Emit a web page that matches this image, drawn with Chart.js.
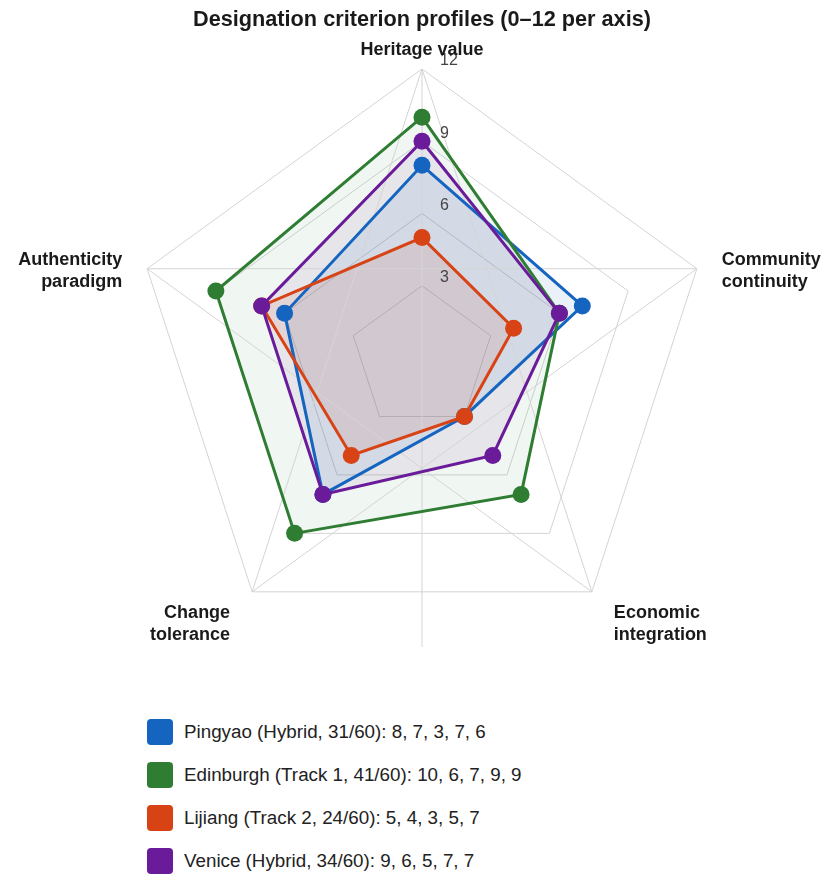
<!DOCTYPE html>
<html>
<head>
<meta charset="utf-8">
<script src="https://cdn.jsdelivr.net/npm/chart.js@4.4.1/dist/chart.umd.min.js"></script>
<style>
  html, body { margin: 0; padding: 0; background: #ffffff; }
  #wrap { position: relative; width: 836px; height: 886px; font-family: "Liberation Sans", Arial, sans-serif; }
  #cvwrap { position: absolute; left: 0; top: 0; width: 836px; height: 690px; }
  #legend { position: absolute; left: 147px; top: 719px; }
  .item { display: flex; align-items: center; height: 26px; margin-bottom: 17px; }
  .box { width: 26px; height: 26px; border-radius: 4px; margin-right: 11px; flex: none; }
  .txt { font-size: 18.8px; color: #222222; white-space: nowrap; }
</style>
</head>
<body>
<div id="wrap">
  <div id="cvwrap"><canvas id="cv"></canvas></div>
  <div id="legend"></div>
</div>
<script>
// ---- data ----
const categories = ["Heritage value", "Community continuity", "Economic integration", "Change tolerance", "Authenticity paradigm"];
const categoryLines = [["Heritage value"], ["Community", "continuity"], ["Economic", "integration"], ["Change", "tolerance"], ["Authenticity", "paradigm"]];
const seriesNames = [
  "Pingyao (Hybrid, 31/60): 8, 7, 3, 7, 6",
  "Edinburgh (Track 1, 41/60): 10, 6, 7, 9, 9",
  "Lijiang (Track 2, 24/60): 5, 4, 3, 5, 7",
  "Venice (Hybrid, 34/60): 9, 6, 5, 7, 7"
];
const pingyao   = [8, 7, 3, 7, 6];
const edinburgh = [10, 6, 7, 9, 9];
const lijiang   = [5, 4, 3, 5, 7];
const venice    = [9, 6, 5, 7, 7];
const tickLabels = ["3", "6", "9", "12"];
const tickValues = [3, 6, 9, 12];

// ---- styles ----
const lineColors = ["#1565c0", "#2e7d32", "#d84315", "#6a1b9a"];
const fillColors = ["rgba(21,101,192,0.09)", "rgba(46,125,50,0.07)", "rgba(216,67,21,0.10)", "rgba(106,27,154,0.08)"];
const gridColor = "#d4d4d4";
const FONT = "'Liberation Sans', Arial, sans-serif";

const seriesValues = [pingyao, edinburgh, lijiang, venice];
const datasets = seriesValues.map((vals, i) => ({
  label: seriesNames[i],
  data: vals,
  borderColor: lineColors[i],
  backgroundColor: fillColors[i],
  pointBackgroundColor: lineColors[i],
  pointBorderColor: lineColors[i],
  pointRadius: 8.5,
  pointHoverRadius: 8.5,
  pointBorderWidth: 0,
  borderWidth: 3,
  fill: true,
  order: seriesValues.length - i
}));

// extra grid: star lines between outer vertices and a vertical diameter
const extraGrid = {
  id: 'extraGrid',
  beforeDatasetsDraw(chart) {
    const s = chart.scales.r;
    const ctx = chart.ctx;
    const n = categories.length;
    const R = s.drawingArea;
    const v = i => s.getPointPosition(i, R);
    ctx.save();
    ctx.strokeStyle = gridColor;
    ctx.lineWidth = 1;
    ctx.beginPath();
    for (let i = 0; i < n; i++) {
      const a = v(i), b = v((i + 2) % n);
      ctx.moveTo(a.x, a.y);
      ctx.lineTo(b.x, b.y);
    }
    const top = v(0);
    ctx.moveTo(top.x, top.y);
    ctx.lineTo(s.xCenter, s.yCenter + R);
    ctx.stroke();
    ctx.restore();
  }
};

// tick and axis labels
const labelsPlugin = {
  id: 'labelsPlugin',
  afterDatasetsDraw(chart) {
    const s = chart.scales.r;
    const ctx = chart.ctx;
    ctx.save();
    // tick labels
    ctx.font = "16px " + FONT;
    ctx.fillStyle = "#444444";
    ctx.textAlign = "left";
    ctx.textBaseline = "middle";
    tickValues.forEach((val, i) => {
      const d = s.getDistanceFromCenterForValue(val);
      ctx.fillText(tickLabels[i], s.xCenter + 18, s.yCenter - d - 8);
    });
    // axis labels
    ctx.font = "bold 18px " + FONT;
    ctx.fillStyle = "#1a1a1a";
    ctx.textBaseline = "alphabetic";
    const R = s.drawingArea;
    const lh = 22;
    categoryLines.forEach((lines, i) => {
      const p = s.getPointPosition(i, R);
      let x, y0, align;
      if (i === 0) { align = "center"; x = p.x; y0 = p.y - 14; }
      else if (i === 1) { align = "left"; x = p.x + 25; y0 = p.y - 4; }
      else if (i === 2) { align = "left"; x = p.x + 22; y0 = p.y + 26; }
      else if (i === 3) { align = "right"; x = p.x - 22; y0 = p.y + 26; }
      else { align = "right"; x = p.x - 25; y0 = p.y - 4; }
      ctx.textAlign = align;
      lines.forEach((t, k) => ctx.fillText(t, x, y0 + k * lh));
    });
    ctx.restore();
  }
};

const chart = new Chart(document.getElementById('cv'), {
  type: 'radar',
  data: { labels: categories, datasets },
  options: {
    responsive: true,
    maintainAspectRatio: false,
    animation: false,
    layout: { padding: { left: 133, right: 125, top: 0, bottom: 42 } },
    elements: { line: { tension: 0 } },
    scales: {
      r: {
        min: 0,
        max: 12,
        ticks: { stepSize: 3, display: false },
        grid: { circular: false, color: gridColor, lineWidth: 1 },
        angleLines: { display: false },
        pointLabels: { display: false }
      }
    },
    plugins: {
      filler: { drawTime: 'beforeDatasetsDraw' },
      legend: { display: false },
      tooltip: { enabled: false },
      title: {
        display: true,
        text: "Designation criterion profiles (0\u201312 per axis)",
        color: "#1a1a1a",
        font: { family: FONT, size: 21.7, weight: "bold" },
        padding: { top: 7, bottom: 36.8 }
      }
    }
  },
  plugins: [extraGrid, labelsPlugin]
});

// HTML legend built from the chart's datasets
const legendEl = document.getElementById('legend');
chart.data.datasets.forEach(ds => {
  const item = document.createElement('div');
  item.className = 'item';
  const box = document.createElement('span');
  box.className = 'box';
  box.style.background = ds.borderColor;
  const txt = document.createElement('span');
  txt.className = 'txt';
  txt.textContent = ds.label;
  item.appendChild(box);
  item.appendChild(txt);
  legendEl.appendChild(item);
});
</script>
</body>
</html>
